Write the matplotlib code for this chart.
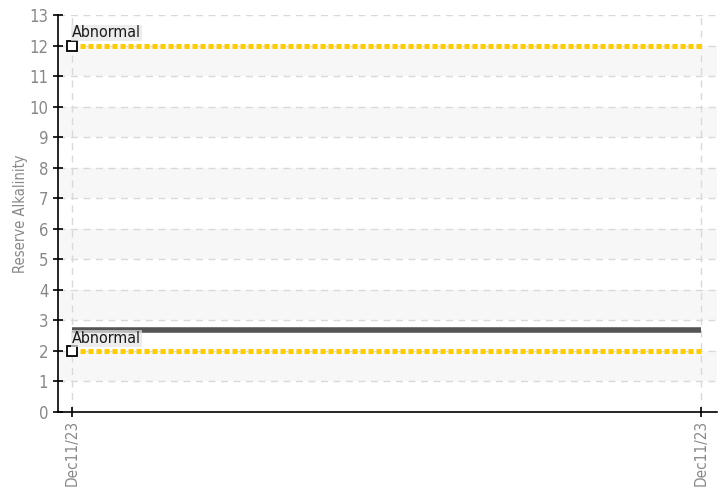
import matplotlib
matplotlib.use('Agg')
import matplotlib.pyplot as plt

plt.rcParams['font.family'] = ['DejaVu Sans']
plt.rcParams['font.stretch'] = 'condensed'

# data
dates = ['Dec11/23', 'Dec11/23']
x_pos = [0, 1]
reading = [2.7, 2.7]
upper_limit = [12, 12]
lower_limit = [2, 2]
limit_label = 'Abnormal'
y_ticks = list(range(0, 14))

fig = plt.figure(figsize=(7.26, 4.93), dpi=100)
ax = fig.add_axes([0.0799, 0.1643, 0.9077, 0.8053])

# alternating bands
for lo in range(1, 13, 2):
    ax.axhspan(lo, lo + 1, color='#f7f7f7', zorder=0, lw=0)

# grid
for y in y_ticks[1:]:
    ax.axhline(y, color='#d9d9d9', lw=1, ls=(0, (5, 4)), zorder=1)
for x in x_pos:
    ax.axvline(x, color='#d9d9d9', lw=1, ls=(0, (5, 4)), zorder=1)

# limits
for lim in (upper_limit, lower_limit):
    ax.plot(x_pos, lim, color='#ffcc00', lw=3.6, ls=(0, (1, 0.6)), zorder=3)
    ax.plot(x_pos[0], lim[0], marker='s', ms=6.5, mfc='white', mec='black',
            mew=1.3, zorder=5)
    ax.text(x_pos[0], lim[0] + 0.17, limit_label, fontsize=11.5, color='#1a1a1a',
            ha='left', va='bottom', zorder=6,
            bbox=dict(boxstyle='square,pad=0.05', fc='#e6e6e6', ec='none', alpha=0.7))

# reading line
ax.plot(x_pos, reading, color='#555555', lw=4, solid_capstyle='butt', zorder=4)

ax.set_xlim(-0.0223, 1.0254)
ax.set_ylim(0, 13)
ax.set_yticks(y_ticks)
ax.set_xticks(x_pos)
ax.set_xticklabels(dates, rotation=90)
ax.tick_params(axis='both', colors='black', labelcolor='#888888',
               labelsize=12, direction='inout', length=7, width=1.2)
ax.tick_params(axis='x', labelsize=11, pad=2)
ax.set_ylabel('Reserve Alkalinity', color='#888888', fontsize=10.5, labelpad=1)

for s in ('top', 'right'):
    ax.spines[s].set_visible(False)
for s in ('left', 'bottom'):
    ax.spines[s].set_color('black')
    ax.spines[s].set_linewidth(1.2)

fig.savefig('out.png', dpi=100)
